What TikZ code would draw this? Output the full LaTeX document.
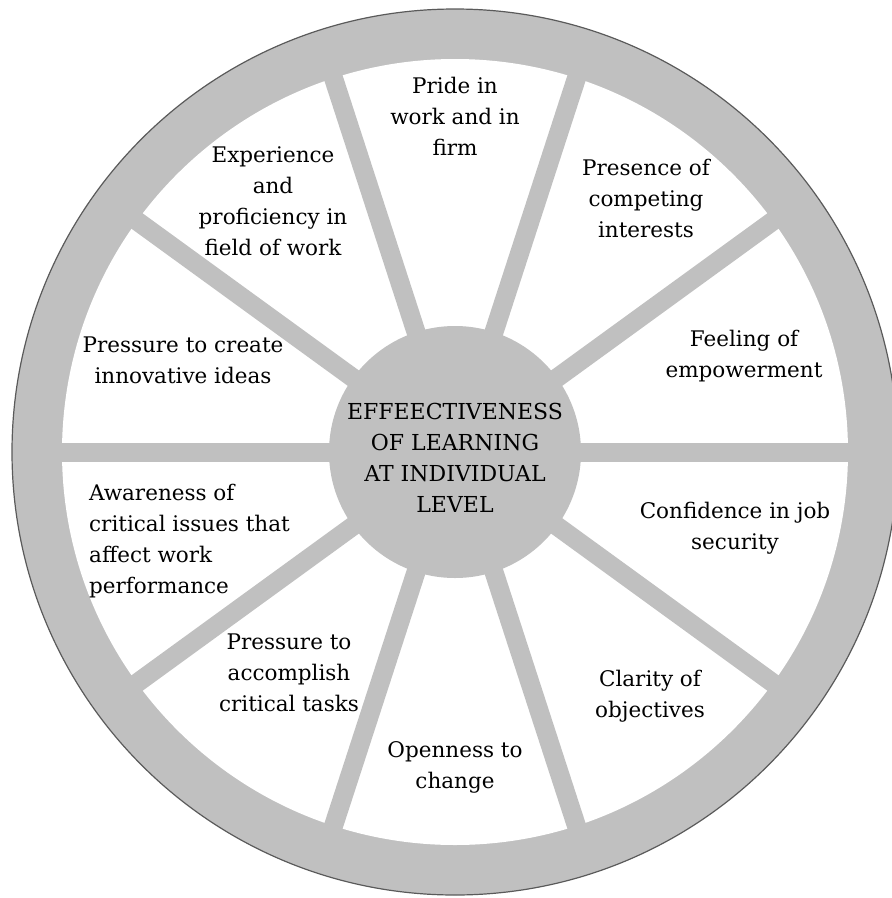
\documentclass[tikz,border=0pt]{standalone}
\usepackage{fontspec}
\setmainfont{DejaVu Serif}
\definecolor{wheelgray}{RGB}{192,192,192}
\definecolor{rimedge}{RGB}{90,90,90}
\begin{document}
\begin{tikzpicture}[x=1pt,y=-1pt,
  lbl/.style={align=center,font=\fontsize{21.5}{31}\selectfont,inner sep=0pt},
  lblleft/.style={align=left,font=\fontsize{21.5}{31}\selectfont,inner sep=0pt},
  hub/.style={align=center,font=\fontsize{22}{31}\selectfont,inner sep=0pt}]
\useasboundingbox (0,0) rectangle (892,898);
\coordinate (c) at (455,452);
% rim
\fill[wheelgray,draw=rimedge,line width=1.2pt] (c) circle[radius=443];
\fill[white] (c) circle[radius=393];
% spokes
\foreach \a in {0,36,...,324}{
  \draw[wheelgray,line width=19pt] (c) -- ++(\a:396);
}
% hub
\fill[wheelgray] (c) circle[radius=126];
\node[hub] (center) at (455,458) {EFFEECTIVENESS\\OF LEARNING\\AT INDIVIDUAL\\LEVEL};
% labels
\node[lbl] (pride) at (455,116) {Pride in\\work and in\\firm};
\node[lbl] (presence) at (646,198) {Presence of\\competing\\interests};
\node[lbl] (feeling) at (744,356) {Feeling of\\empowerment};
\node[lbl] (confidence) at (735,528) {Confidence in job\\security};
\node[lbl] (clarity) at (650,696) {Clarity of\\objectives};
\node[lbl] (openness) at (455,767) {Openness to\\change};
\node[lbl] (accomplish) at (289,673) {Pressure to\\accomplish\\critical tasks};
\node[lblleft,anchor=west] (awareness) at (89,541) {Awareness of\\critical issues that\\affect work\\performance};
\node[lbl] (innovative) at (183,360) {Pressure to create\\innovative ideas};
\node[lbl] (experience) at (273,201) {Experience\\and\\proficiency in\\field of work};
\end{tikzpicture}
\end{document}
